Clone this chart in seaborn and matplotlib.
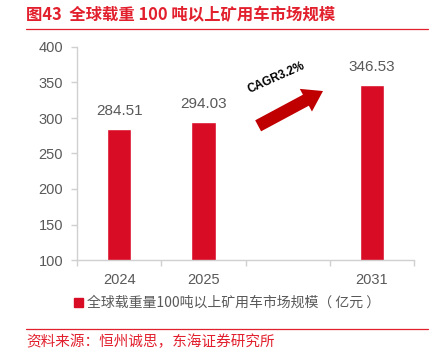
import numpy as np
import pandas as pd
import seaborn as sns
import matplotlib
matplotlib.use("Agg")
import matplotlib.pyplot as plt
from matplotlib.patches import Patch
from matplotlib.lines import Line2D

# ---- data ----
categories = ["2024", "2025", " ", "2031"]
years = ["2024", "2025", "2031"]
values = [284.51, 294.03, 346.53]
value_labels = ["284.51", "294.03", "346.53"]
yticks = [100, 150, 200, 250, 300, 350, 400]
title = "图43  全球载重 100 吨以上矿用车市场规模"
legend_label = "全球载重量100吨以上矿用车市场规模（ 亿元 ）"
source = "资料来源：恒州诚思，东海证券研究所"
cagr_text = "CAGR3.2%"

bar_color = "#D90C26"
title_red = "#E2202D"
arrow_red = "#C00000"
gray = "#595959"

sns.set_style("white")
plt.rcParams["font.family"] = ["Liberation Sans", "Noto Sans CJK SC", "DejaVu Sans"]

fig = plt.figure(figsize=(4.46, 3.55), dpi=100)
ax = fig.add_axes([77 / 446, 1 - 260 / 355, (414 - 77) / 446, (260 - 47) / 355])

df = pd.DataFrame({"year": years, "value": values})
sns.barplot(data=df, x="year", y="value", order=categories, color=bar_color,
            saturation=1, width=0.29, ax=ax)

ax.set_ylim(100, 400)
ax.set_xlim(-0.5, len(categories) - 0.5)
ax.set_yticks(yticks)
ax.set_xlabel("")
ax.set_ylabel("")

for s in ["top", "right"]:
    ax.spines[s].set_visible(False)
for s in ["left", "bottom"]:
    ax.spines[s].set_color("#D0D0D0")
    ax.spines[s].set_linewidth(1.0)

ax.tick_params(axis="y", which="major", length=4, width=1, color="#D0D0D0",
               labelsize=10.5, labelcolor=gray, pad=6, left=True, direction="out")
ax.set_xticks(range(len(categories)))
ax.set_xticklabels(categories)
ax.tick_params(axis="x", which="major", length=0, labelsize=10.5, labelcolor=gray, pad=9)
ax.set_xticks(np.arange(-0.5, len(categories), 1.0), minor=True)
ax.tick_params(axis="x", which="minor", length=4, width=1, color="#D0D0D0",
               bottom=True, direction="out")

# value labels
for cont in ax.containers:
    ax.bar_label(cont, labels=value_labels, padding=8, fontsize=11, color=gray)

# CAGR arrow
ax.annotate("", xy=(2.42, 338), xytext=(1.65, 289),
            arrowprops=dict(arrowstyle="simple,head_length=1.4,head_width=1.85,tail_width=0.9",
                            mutation_scale=10, color=arrow_red, shrinkA=0, shrinkB=0, lw=0))
ax.text(1.86, 357, cagr_text, rotation=24, ha="center", va="center",
        fontsize=8.5, fontweight="bold", color="black", family="Liberation Sans")

# title
fig.text(26 / 446, 1 - 15 / 355, title, ha="left", va="center", fontsize=11.8,
         fontweight="bold", color=title_red,
         family=["Noto Sans CJK SC", "Liberation Sans"])
fig.add_artist(Line2D([26 / 446, 428 / 446], [1 - 29 / 355] * 2, color=title_red, lw=0.9))

# legend
fig.legend(handles=[Patch(color=bar_color)], labels=[legend_label], loc="center",
           bbox_to_anchor=(227 / 446, 1 - 303 / 355), frameon=False,
           handlelength=0.6, handleheight=0.6, handletextpad=0.3,
           prop={"family": ["Noto Sans CJK SC"], "size": 10}, labelcolor=gray)

# source
fig.add_artist(Line2D([26 / 446, 428 / 446], [1 - 329 / 355] * 2, color=title_red, lw=0.9))
fig.text(26 / 446, 1 - 342 / 355, source, ha="left", va="center", fontsize=10.5,
         color=title_red, family=["Noto Sans CJK SC"])

fig.savefig("out.png", dpi=100)
